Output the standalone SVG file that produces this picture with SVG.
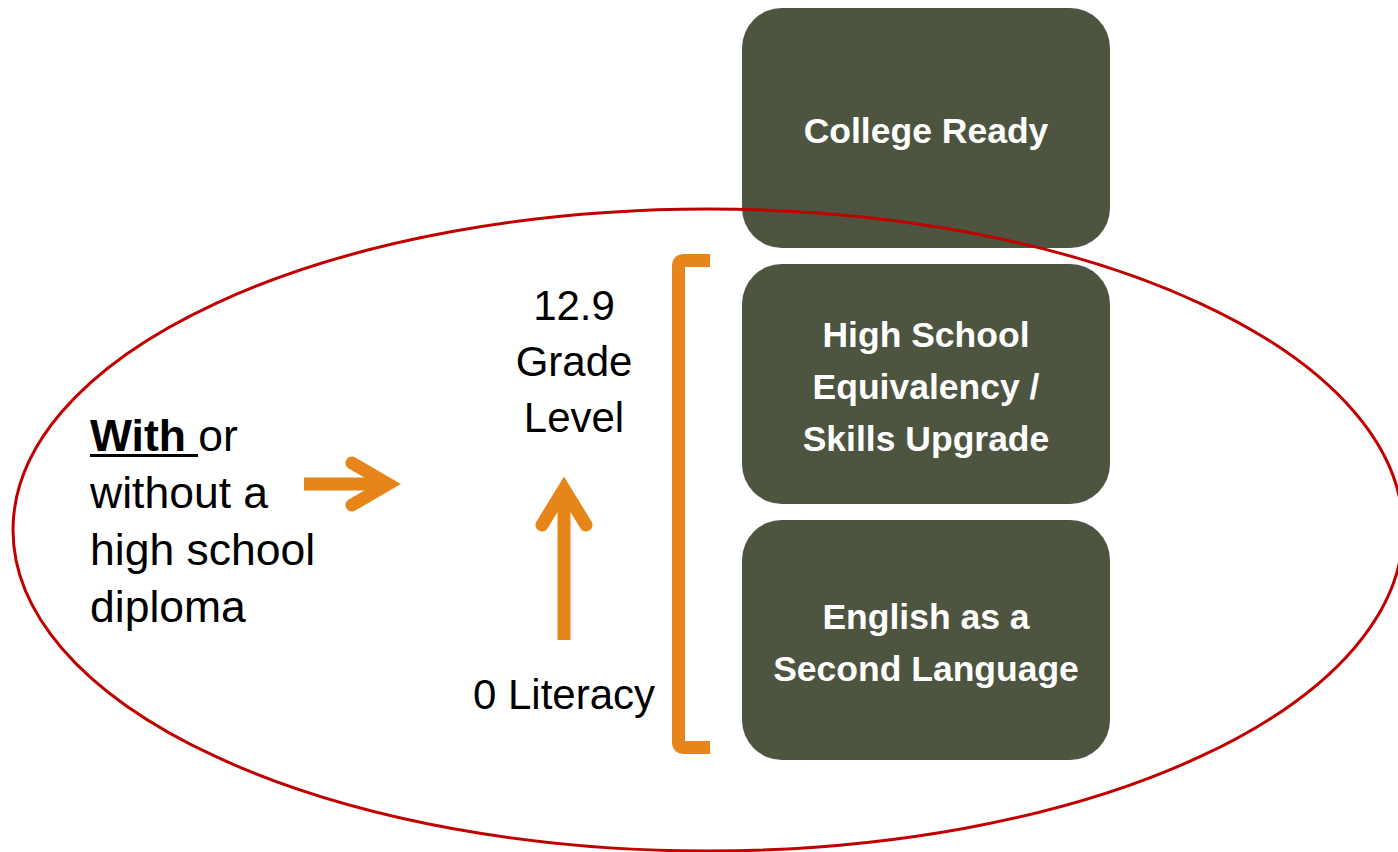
<svg xmlns="http://www.w3.org/2000/svg" width="1398" height="852" viewBox="0 0 1398 852">
<style>
.box{fill:#4D5540}
.bt{font-family:"Liberation Sans",Arial,sans-serif;font-weight:bold;font-size:35.5px;fill:#fff;text-anchor:middle}
.lt{font-family:"Liberation Sans",Arial,sans-serif;font-size:44.5px;fill:#000}
.ct{font-family:"Liberation Sans",Arial,sans-serif;font-size:42px;fill:#000;text-anchor:middle}
.or{fill:none;stroke:#E6861A;stroke-width:13}
</style>
<rect width="1398" height="852" fill="#fff"/>
<g id="college-ready">
<rect class="box" x="742" y="8" width="368" height="240" rx="40"/>
<text class="bt" x="926" y="143">College Ready</text>
</g>
<g id="high-school">
<rect class="box" x="742" y="264" width="368" height="240" rx="40"/>
<text class="bt" x="926" y="347">High School</text>
<text class="bt" x="926" y="399">Equivalency /</text>
<text class="bt" x="926" y="451">Skills Upgrade</text>
</g>
<g id="esl">
<rect class="box" x="742" y="520" width="368" height="240" rx="40"/>
<text class="bt" x="926" y="629">English as a</text>
<text class="bt" x="926" y="681">Second Language</text>
</g>
<g id="left-label">
<text class="lt" x="90" y="451"><tspan font-weight="bold">With </tspan>or</text>
<rect x="90" y="454" width="108" height="3" fill="#000"/>
<text class="lt" x="90" y="508">without a</text>
<text class="lt" x="90" y="565">high school</text>
<text class="lt" x="90" y="622">diploma</text>
</g>
<g id="grade-label">
<text class="ct" x="574" y="320">12.9</text>
<text class="ct" x="574" y="376">Grade</text>
<text class="ct" x="574" y="432">Level</text>
<text class="ct" x="564" y="709">0 Literacy</text>
</g>
<g id="connectors">
<line class="or" x1="304" y1="484" x2="384" y2="484"/>
<polyline class="or" points="352,463 388,484 352,505" stroke-linecap="round" stroke-linejoin="miter" stroke-width="14"/>
<line class="or" x1="564" y1="640" x2="564" y2="492"/>
<polyline class="or" points="542,525 564,489 586,525" stroke-linecap="round" stroke-linejoin="miter" stroke-width="14"/>
<path class="or" d="M710,260.5 H684 Q678.5,260.5 678.5,266 V742 Q678.5,747.5 684,747.5 H710" stroke-width="11"/>
</g>
<g id="ellipse">
<ellipse cx="708" cy="530" rx="695" ry="321" fill="none" stroke="#C00000" stroke-width="3"/>
</g>
</svg>
